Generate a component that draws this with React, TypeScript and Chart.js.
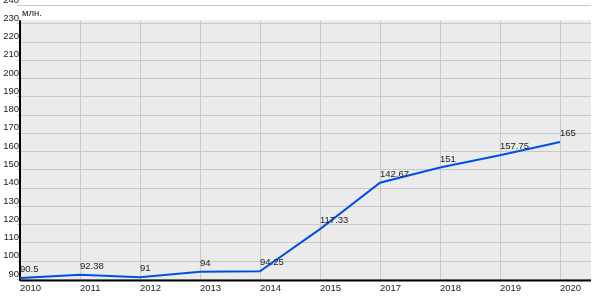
import React, { useEffect, useRef } from "react";
import { Chart, registerables } from "chart.js";

Chart.register(...registerables);

const years = ["2010", "2011", "2012", "2013", "2014", "2015", "2017", "2018", "2019", "2020"];
const values = [90.5, 92.38, 91, 94, 94.25, 117.33, 142.67, 151, 157.75, 165];
const valueLabels = ["90.5", "92.38", "91", "94", "94.25", "117.33", "142.67", "151", "157.75", "165"];
const unitLabel = "млн.";

const FONT = "Liberation Sans, Arial, sans-serif";
const FS = 9.5;
const TEXT = "#222";
const GRID = "#c8c8c8";
const BG = "#ebebeb";

const decorPlugin = {
  id: "decor",
  beforeDatasetsDraw(chart: any) {
    const { ctx, chartArea, scales } = chart;
    const x = scales.x;
    const y = scales.y;
    const top = y.getPixelForValue(230) - 3;
    ctx.save();
    ctx.fillStyle = BG;
    ctx.fillRect(chartArea.left, top, chartArea.right - chartArea.left, chartArea.bottom + 1 - top);
    ctx.strokeStyle = GRID;
    ctx.lineWidth = 1;
    y.ticks.forEach((t: any) => {
      const py = Math.round(y.getPixelForValue(t.value)) + 0.5;
      ctx.beginPath();
      ctx.moveTo(chartArea.left - 3, py);
      ctx.lineTo(chartArea.right, py);
      ctx.stroke();
    });
    for (let i = 1; i < years.length; i++) {
      const px = Math.round(x.getPixelForValue(i)) + 0.5;
      ctx.beginPath();
      ctx.moveTo(px, top);
      ctx.lineTo(px, chartArea.bottom);
      ctx.stroke();
    }
    ctx.strokeStyle = "#000";
    ctx.lineWidth = 2;
    ctx.beginPath();
    ctx.moveTo(chartArea.left, top);
    ctx.lineTo(chartArea.left, chartArea.bottom + 2);
    ctx.moveTo(chartArea.left, chartArea.bottom + 1.5);
    ctx.lineTo(chartArea.right, chartArea.bottom + 1.5);
    ctx.stroke();
    ctx.fillStyle = TEXT;
    ctx.font = `${FS}px ${FONT}`;
    ctx.textAlign = "left";
    ctx.textBaseline = "alphabetic";
    ctx.fillText(unitLabel, chartArea.left + 2, top - 4);
    ctx.restore();
  },
  afterDatasetsDraw(chart: any) {
    const { ctx } = chart;
    const meta = chart.getDatasetMeta(0);
    ctx.save();
    ctx.fillStyle = TEXT;
    ctx.font = `${FS}px ${FONT}`;
    ctx.textAlign = "left";
    ctx.textBaseline = "alphabetic";
    meta.data.forEach((pt: any, i: number) => {
      ctx.fillText(valueLabels[i], pt.x, pt.y - 6);
    });
    ctx.restore();
  },
};

export default function App() {
  const ref = useRef<HTMLCanvasElement>(null);
  useEffect(() => {
    document.body.style.margin = "0";
    const chart = new Chart(ref.current!, {
      type: "line",
      data: {
        datasets: [
          {
            data: values.map((v, i) => ({ x: i, y: v })),
            borderColor: "#0050e6",
            borderWidth: 2,
            pointRadius: 0,
            tension: 0,
            fill: false,
          },
        ],
      },
      options: {
        animation: false,
        responsive: false,
        layout: { padding: { top: 5, right: 9, left: 0, bottom: 0 } },
        plugins: { legend: { display: false }, tooltip: { enabled: false } },
        scales: {
          x: {
            type: "linear",
            min: 0,
            max: 9.517,
            grid: { display: false, drawTicks: false, tickLength: 0 },
            border: { display: false },
            afterFit(scale: any) {
              scale.height = 21;
              scale.paddingLeft = 0;
              scale.paddingRight = 0;
            },
            afterBuildTicks(scale: any) {
              scale.ticks = years.map((_, i) => ({ value: i }));
            },
            ticks: {
              align: "start",
              autoSkip: false,
              maxRotation: 0,
              padding: 4,
              color: TEXT,
              font: { family: FONT, size: FS },
              callback: (v: any) => years[v as number] ?? "",
            },
          },
          y: {
            min: 90,
            max: 240,
            grid: { display: false, drawTicks: false, tickLength: 0 },
            border: { display: false },
            afterFit(scale: any) {
              scale.width = 20;
              scale.paddingTop = 0;
              scale.paddingBottom = 0;
            },
            ticks: {
              stepSize: 10,
              padding: 1,
              labelOffset: -5,
              color: TEXT,
              font: { family: FONT, size: FS },
            },
          },
        },
      },
      plugins: [decorPlugin],
    });
    return () => chart.destroy();
  }, []);
  return <canvas ref={ref} width={600} height={300} style={{ display: "block" }} />;
}
